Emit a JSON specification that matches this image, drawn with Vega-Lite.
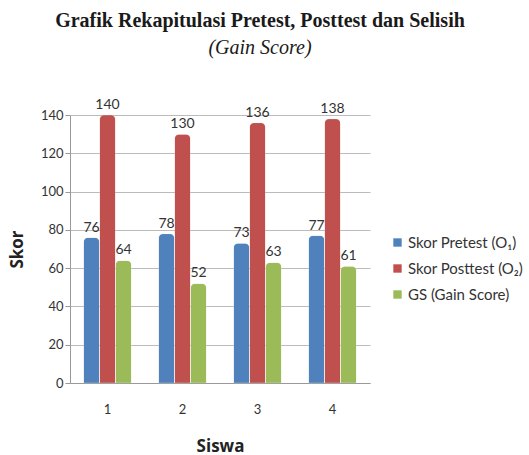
{
  "$schema": "https://vega.github.io/schema/vega-lite/v6.json",
  "width": 300,
  "height": 268,
  "autosize": {"type": "none"},
  "padding": {"left": 70, "top": 115, "right": 159, "bottom": 72},
  "background": "white",
  "title": {
    "text": "Grafik Rekapitulasi Pretest, Posttest dan Selisih",
    "subtitle": "(Gain Score)",
    "font": "Liberation Serif",
    "fontSize": 20,
    "fontWeight": "bold",
    "color": "#1a1a1a",
    "subtitleFont": "Liberation Serif",
    "subtitleFontSize": 20,
    "subtitleFontStyle": "italic",
    "subtitleColor": "#1a1a1a",
    "subtitlePadding": 7,
    "anchor": "middle",
    "dx": 40,
    "offset": 40
  },
  "config": {
    "view": {"stroke": null},
    "axis": {"labelFont": "Lato", "titleFont": "Open Sans", "labelColor": "#333", "titleColor": "#222"}
  },
  "data": {
    "values": [
      {"siswa": "1", "seri": "Skor Pretest (O₁)", "skor": 76},
      {"siswa": "1", "seri": "Skor Posttest (O₂)", "skor": 140},
      {"siswa": "1", "seri": "GS (Gain Score)", "skor": 64},
      {"siswa": "2", "seri": "Skor Pretest (O₁)", "skor": 78},
      {"siswa": "2", "seri": "Skor Posttest (O₂)", "skor": 130},
      {"siswa": "2", "seri": "GS (Gain Score)", "skor": 52},
      {"siswa": "3", "seri": "Skor Pretest (O₁)", "skor": 73},
      {"siswa": "3", "seri": "Skor Posttest (O₂)", "skor": 136},
      {"siswa": "3", "seri": "GS (Gain Score)", "skor": 63},
      {"siswa": "4", "seri": "Skor Pretest (O₁)", "skor": 77},
      {"siswa": "4", "seri": "Skor Posttest (O₂)", "skor": 138},
      {"siswa": "4", "seri": "GS (Gain Score)", "skor": 61}
    ]
  },
  "encoding": {
    "x": {
      "field": "siswa", "type": "nominal",
      "scale": {"paddingInner": 0.36, "paddingOuter": 0.18},
      "axis": {"title": "Siswa", "labelAngle": 0, "labelFontSize": 13, "labelPadding": 20, "titleFontSize": 17, "titleFontWeight": "bold", "titlePadding": 22, "ticks": false, "domainColor": "#999", "grid": false}
    },
    "xOffset": {"field": "seri", "type": "nominal", "sort": ["Skor Pretest (O₁)", "Skor Posttest (O₂)", "GS (Gain Score)"]},
    "y": {
      "field": "skor", "type": "quantitative",
      "scale": {"domain": [0, 140]},
      "axis": {"title": "Skor", "values": [0, 20, 40, 60, 80, 100, 120, 140], "labelFontSize": 13, "titleFontSize": 17, "titleFontWeight": "bold", "titlePadding": 14, "gridColor": "#bbb", "domainColor": "#999", "tickColor": "#999", "tickSize": 5}
    }
  },
  "layer": [
    {
      "mark": {"type": "bar", "cornerRadiusTopLeft": 5, "cornerRadiusTopRight": 5, "stroke": "#ffffff", "strokeOpacity": 0.3, "strokeWidth": 0.5},
      "encoding": {
        "color": {
          "field": "seri", "type": "nominal",
          "sort": ["Skor Pretest (O₁)", "Skor Posttest (O₂)", "GS (Gain Score)"],
          "scale": {"domain": ["Skor Pretest (O₁)", "Skor Posttest (O₂)", "GS (Gain Score)"], "range": ["#4F81BD", "#C0504D", "#9BBB59"]},
          "legend": {"title": null, "orient": "none", "legendX": 320, "legendY": 120, "symbolType": "square", "symbolSize": 70, "symbolStrokeWidth": 0, "symbolOffset": 0, "labelOffset": 3, "labelFont": "Lato", "labelFontSize": 15, "labelColor": "#333", "rowPadding": 10, "labelLimit": 200}
        }
      }
    },
    {
      "mark": {"type": "text", "dy": -10, "font": "Lato", "fontSize": 14, "color": "#333"},
      "encoding": {"text": {"field": "skor", "type": "quantitative"}}
    }
  ]
}
